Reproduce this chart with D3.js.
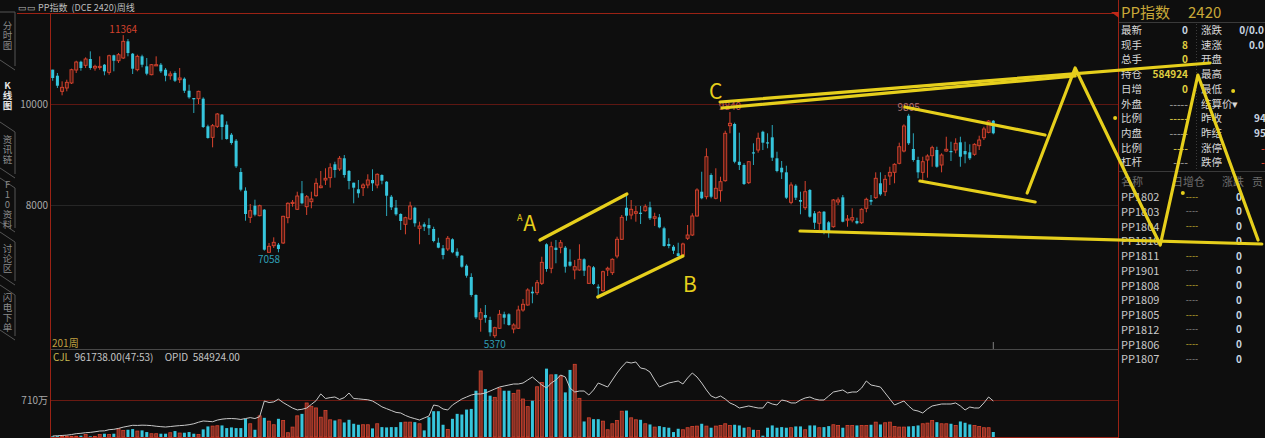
<!DOCTYPE html>
<html><head><meta charset="utf-8">
<script src="https://cdn.jsdelivr.net/npm/d3@7"></script>
<style>
html,body{margin:0;padding:0;background:#0e0e0e;overflow:hidden}
svg{display:block}
text{font-family:"Noto Sans CJK SC","Liberation Sans",sans-serif}
</style></head><body>
<svg id="c" width="1265" height="438"></svg>
<script>
// ---------------- DATA ----------------
const opens=[10680,10560,10251,10317,10416,10673,10837,10766,10891,10713,
10740,10778,10627,10964,10857,10911,11241,10996,10679,10944,
10746,10580,10770,10778,10679,10560,10614,10481,10501,10263,
10119,10105,10105,9558,9340,9558,9788,9590,9392,9273,
8653,8283,7756,7986,7788,7907,7063,7194,7214,7248,
7749,8040,7915,8232,7966,8065,8184,8343,8495,8541,
8806,8713,8925,8673,8442,8311,8343,8396,8495,8396,
8594,8461,8164,7946,7822,7618,7723,7946,7539,7618,
7604,7525,7253,7143,7129,7321,7075,6996,6798,6574,
6218,5737,5822,5723,5412,5559,5836,5836,5545,5559,
5921,6020,6283,6264,6449,7222,6747,7155,7162,7155,
6877,6713,6713,6925,6449,6766,6382,6303,6713,6660,
6990,7321,7946,7802,7836,7847,7887,7954,7737,7756,
7539,7228,7174,7044,7010,7341,7406,7782,8263,8164,
8594,8133,8283,8481,9570,9604,8857,8792,8442,9043,
9089,9451,9241,9340,8925,8738,8647,8053,8382,8099,
7946,8297,7836,7638,7867,7657,7570,8060,8152,7710,
7703,7683,7649,7935,8099,8145,8430,8263,8574,8647,
8826,9069,9768,9109,8891,8647,8891,8976,9089,8792,
9069,9069,9089,9241,9069,9043,9004,9174,9332,9439,9669];
const highs=[10680,10614,10449,10481,10699,10857,10857,10924,11043,10778,
10944,10792,10976,10976,11010,11364,11287,11010,10976,10976,
10911,10792,10944,10812,10713,10647,10647,10713,10528,10382,
10119,10263,10132,9590,9604,9822,9802,9657,9426,9307,
8733,8350,8020,8105,8006,7921,7248,7360,7248,7788,
8053,8099,8263,8475,8198,8263,8529,8673,8727,8826,
8857,8970,8990,8693,8442,8495,8430,8608,8707,8628,
8608,8475,8198,8099,7836,7768,8065,7966,7669,7657,
7737,7570,7352,7208,7386,7341,7143,7010,6826,6648,
6232,5955,6020,5788,5590,5921,5887,5856,5658,6006,
6139,6351,6382,6515,6976,7242,7273,7307,7307,7188,
7123,6911,7222,6945,6812,6792,6430,6699,6778,6945,
7372,7802,8198,8099,7980,7980,8014,8065,7847,7822,
7570,7341,7208,7253,7253,7604,7836,8331,8659,9123,
8628,8727,8560,9471,9840,9630,9432,8826,8871,9222,
9432,9471,9420,9584,9055,8871,8778,8449,8410,8263,
8475,8317,7881,7881,7881,7683,8119,8150,8198,7802,
7935,7749,7935,8145,8198,8647,8647,8594,8758,8826,
9234,9598,9805,9420,8956,8956,9004,9174,9154,9024,
9352,9253,9321,9352,9253,9202,9222,9372,9550,9683,9683];
const lows=[10460,10317,10172,10251,10396,10614,10659,10713,10679,10659,
10679,10568,10580,10647,10812,10891,10944,10594,10647,10726,
10568,10568,10766,10614,10449,10481,10435,10416,10218,10105,
9822,10000,9525,9313,9142,9525,9293,9293,9194,8733,
8271,7689,7644,7776,7776,7095,7058,7149,7063,7228,
7638,7966,7901,8014,7802,7935,8164,8331,8396,8343,
8541,8673,8541,8311,8034,8145,8178,8331,8277,8331,
8410,7782,7901,7788,7505,7420,7703,7570,7222,7485,
7406,7261,7143,6925,7089,7044,6956,6758,6560,6184,
5743,5491,5669,5400,5370,5545,5638,5610,5460,5545,
5887,6006,6054,6218,6416,6679,6648,6846,7044,6660,
6778,6529,6699,6594,6436,6416,6172,6283,6594,6614,
6945,7307,7689,7717,7669,7624,7867,7703,7584,7539,
7174,7143,7030,6976,6976,7307,7386,7768,8113,8113,
8133,8113,8065,8461,9420,8826,8693,8396,8416,8792,
9035,9089,9123,8871,8647,8515,8119,8014,8099,7816,
7901,7749,7525,7505,7420,7352,7550,8000,7657,7570,
7657,7618,7624,7856,8000,8119,8184,8178,8396,8430,
8806,9043,9188,8857,8529,8495,8541,8758,8738,8647,
9055,8871,9024,8758,8826,8891,8976,9089,9287,9420,9400];
const closes=[10515,10362,10330,10429,10679,10831,10713,10891,10713,10746,
10746,10647,10956,10857,10976,11241,11010,10699,10944,10778,
10600,10778,10778,10647,10560,10594,10461,10515,10263,10132,
10093,10251,9544,9327,9570,9802,9544,9307,9228,8766,
8303,7822,7887,7808,7986,7115,7182,7261,7129,7776,
8034,8053,8178,8034,8164,8119,8430,8376,8529,8738,
8693,8925,8594,8475,8343,8232,8396,8495,8430,8608,
8481,8184,7954,7816,7683,7749,7980,7638,7584,7570,
7539,7287,7155,7010,7341,7063,6996,6778,6600,6218,
5776,5867,5768,5479,5571,5836,5768,5624,5624,5921,
6034,6317,6251,6462,6865,6733,7174,7109,7253,6778,
6798,6778,6925,6699,6778,6436,6351,6679,6747,6925,
7321,7756,7788,7915,7867,7836,7966,7737,7768,7558,
7188,7188,7095,6990,7228,7406,7782,8297,8133,8956,
8164,8331,8461,9420,9618,8857,8792,8416,8857,9024,
9321,9234,9222,8937,8673,8647,8145,8396,8145,8065,
8263,7768,7649,7855,7471,7485,8099,8100,7669,7723,
7749,7638,7915,8113,8065,8529,8212,8509,8647,8806,
9154,9564,9222,8891,8647,8857,8970,9135,8758,8990,
9103,9055,9222,8956,9004,8925,9202,9287,9505,9663,9420];
// volume in 万
const volumes=[15,18,12,14,13,15,25,50,13,13,
50,63,50,63,158,127,139,152,114,127,
95,63,63,63,63,82,114,76,82,95,
63,50,146,203,209,216,222,171,184,171,
171,349,254,139,406,368,304,235,349,317,
82,190,406,444,653,590,558,380,507,330,
317,330,279,330,254,235,235,235,165,254,
190,184,190,190,285,285,285,285,254,127,
380,495,495,235,146,349,444,431,526,539,
888,1268,919,793,761,938,888,888,837,900,
729,583,697,964,1046,1312,1192,1205,1173,856,
1287,1395,742,298,368,342,342,304,139,254,
317,495,507,368,330,330,254,241,190,209,
190,178,95,158,139,178,203,209,254,209,
178,209,222,254,222,235,222,178,178,139,
127,25,178,222,178,190,178,178,203,203,
139,222,222,178,190,209,235,222,178,222,
222,222,222,222,235,285,241,273,285,203,
190,190,203,209,222,254,266,317,285,254,
254,254,222,298,273,241,222,203,178,178,96];
// open interest in 千手
const openInterest=[16,20,25,30,40,54,60,70,75,85,
97,100,119,125,140,160,175,190,188,192,
190,185,175,168,162,170,178,185,190,200,
215,240,260,255,248,275,290,298,300,296,
285,300,315,300,330,585,560,570,615,560,
515,470,440,450,470,530,590,700,625,640,
650,610,640,715,625,620,612,605,585,540,
490,460,430,400,390,350,320,298,276,309,
341,520,504,455,439,520,569,617,650,682,
699,699,715,747,780,812,829,845,861,861,
877,926,975,910,845,796,877,926,1007,975,
796,731,747,747,682,764,877,845,812,926,
1040,1137,1219,1202,1219,1121,1105,1056,926,812,
845,877,894,910,861,959,1040,975,877,764,
666,634,666,617,553,520,471,487,504,487,
471,471,569,536,520,601,585,553,553,601,
634,650,617,601,601,666,731,747,764,715,
731,731,796,910,845,829,812,715,617,520,
553,585,504,439,422,390,455,504,520,536,
536,536,553,504,439,487,471,471,553,650,584.924];
const priceTicks=[8000,10000];
const volTicks=[710];
const markIdx=[15,46,94,182,144];
const markText=["11364","7058","5370","9805","9840"];
const markSide=["top","bottom","bottom","top","top"];
const sideTabs=["分时图","K线图","资讯链","F10资料","讨论区","闪电下单"];
const quoteLabelsL=["最新","现手","总手","持仓","日增","外盘","比例","内盘","比例","杠杆"];
const quoteValuesL=["0","8","0","584924","0","-----","-----","-----","----","----"];
const quoteLabelsR=["涨跌","速涨","开盘","最高","最低","结算价","昨收","昨结","涨停","跌停"];
const quoteValuesR=["0/0.0","0.0","","","","","94","95","-","-"];
const contracts=["PP1802","PP1803","PP1804","PP1810","PP1811","PP1901","PP1808","PP1809","PP1805","PP1812","PP1806","PP1807"];
const contractHeads=["名称","日增仓","涨跌","贡"];
// hand-drawn annotations, [candle index, price]
const annoLines=[
 [[103.6,7307],[122.1,8218]],
 [[115.9,6178],[134.0,6990]],
 [[141.9,10040],[246.1,10812]],
 [[142.3,9921],[217.4,10554]],
 [[181.2,9941],[211.0,9386]],
 [[184.4,8475],[208.9,8060]],
 [[158.9,7485],[257.1,7228]],
 [[207.2,8238],[217.4,10713],[235.5,7208],[243.5,10574],[256.3,7307]]
];
const annoLetters=["A","B","C"];
const annoLetterPos=[[101.4,7664],[135.5,6456],[141.0,10277]];
const annoDots=[[225.9,9723],[251.0,10257],[240.3,8238]];

// ---------------- SCALES ----------------
const N=opens.length;
const x=d3.scaleBand().domain(d3.range(N)).range([50.35,995.65]).paddingInner(0.36).paddingOuter(0.18);
const bw=x.bandwidth();
const cx=i=>x(i)+bw/2;
const xi=d3.scaleLinear().domain([0,N-1]).range([cx(0),cx(N-1)]);
const y=d3.scaleLinear().domain([8000,10000]).range([205,104]);
const yv=d3.scaleLinear().domain([0,710]).range([437,400]);
const yo=d3.scaleLinear().domain([0,584.924]).range([437,401]);

const UP="#d8432e", UP_FILL="#4a1b14", DOWN="#36c5dc", DOWN_W="#2aa6ba";
const svg=d3.select("#c");
svg.append("rect").attr("width",1265).attr("height",438).attr("fill","#0e0e0e");

const defs=svg.append("defs");
defs.append("clipPath").attr("id","cpMain").append("rect").attr("x",51).attr("y",14).attr("width",1067).attr("height",335);
defs.append("clipPath").attr("id","cpVol").append("rect").attr("x",51).attr("y",351).attr("width",1067).attr("height",87);

// ---------------- FRAME ----------------
svg.append("text").attr("x",18).attr("y",7).attr("dominant-baseline","central")
  .attr("font-size",9).attr("fill","#bdbdbd").style("white-space","pre").text("▭▭ PP指数  (DCE 2420)周线");
svg.append("line").attr("x1",17).attr("x2",1118).attr("y1",13.5).attr("y2",13.5).attr("stroke","#9a2214");
svg.append("line").attr("x1",50.5).attr("x2",50.5).attr("y1",13).attr("y2",438).attr("stroke","#9a2214");
svg.append("line").attr("x1",1118.5).attr("x2",1118.5).attr("y1",0).attr("y2",438).attr("stroke","#9a2214");
svg.append("path").attr("d","M1111,12 L1119,12 L1119,18 Z").attr("fill","#c02818");

// grid lines
svg.append("g").selectAll("line").data(priceTicks).join("line")
  .attr("x1",51).attr("x2",1118).attr("y1",d=>Math.round(y(d))+0.5).attr("y2",d=>Math.round(y(d))+0.5)
  .attr("stroke",d=>d===10000?"#5e1712":"#262626");
const yAxis=d3.axisLeft(y).tickValues(priceTicks).tickSize(0).tickPadding(3).tickFormat(d3.format("d"));
svg.append("g").attr("transform","translate(51,0)").call(yAxis)
  .call(g=>g.select(".domain").remove())
  .selectAll("text").attr("fill","#a8a8a8").attr("font-size",10).attr("font-family","Liberation Sans, sans-serif");

// separators
svg.append("line").attr("x1",51).attr("x2",1118).attr("y1",349.5).attr("y2",349.5).attr("stroke","#484848");
svg.append("line").attr("x1",xi(200)).attr("x2",xi(200)).attr("y1",342).attr("y2",349).attr("stroke","#808080");
svg.append("text").attr("x",52).attr("y",342).attr("dominant-baseline","central").attr("font-size",10).attr("fill","#c0a040").text("201周");

// volume panel axis
svg.append("g").selectAll("line").data(volTicks).join("line")
  .attr("x1",51).attr("x2",1118).attr("y1",d=>Math.round(yv(d))+0.5).attr("y2",d=>Math.round(yv(d))+0.5).attr("stroke","#6a1a12");
const vAxis=d3.axisLeft(yv).tickValues(volTicks).tickSize(0).tickPadding(3).tickFormat(d=>d+"万");
svg.append("g").attr("transform","translate(51,0)").call(vAxis)
  .call(g=>g.select(".domain").remove())
  .selectAll("text").attr("fill","#a8a8a8").attr("font-size",10);
svg.append("line").attr("x1",51).attr("x2",1118).attr("y1",437.5).attr("y2",437.5).attr("stroke","#9a2214");
const info=svg.append("text").attr("x",53).attr("y",356).attr("dominant-baseline","central").attr("font-size",10)
  .attr("font-family","Liberation Sans, sans-serif").style("white-space","pre");
info.append("tspan").attr("fill","#c8b850").text("CJL  ");
info.append("tspan").attr("fill","#c4c4c4").text("961738.00(47:53)     OPID  584924.00");

// ---------------- CANDLES ----------------
const idx=d3.range(N);
const cg=svg.append("g").attr("clip-path","url(#cpMain)");
cg.selectAll("line.w").data(idx).join("line").attr("class","w")
  .attr("x1",i=>cx(i)).attr("x2",i=>cx(i))
  .attr("y1",i=>y(highs[i])).attr("y2",i=>y(lows[i]))
  .attr("stroke",i=>closes[i]>=opens[i]?UP:DOWN_W).attr("stroke-width",1);
cg.selectAll("rect.b").data(idx).join("rect").attr("class","b")
  .attr("x",i=>x(i)).attr("width",bw)
  .attr("y",i=>y(Math.max(opens[i],closes[i])))
  .attr("height",i=>Math.max(1.2,Math.abs(y(opens[i])-y(closes[i]))))
  .attr("fill",i=>closes[i]>=opens[i]?UP_FILL:DOWN)
  .attr("stroke",i=>closes[i]>=opens[i]?UP:"none").attr("stroke-width",0.9);

// extreme labels
svg.append("g").selectAll("text").data(markIdx).join("text")
  .attr("x",i=>cx(i)).attr("y",(i,k)=>markSide[k]==="top"?y(highs[i])-7:y(lows[i])+6)
  .attr("text-anchor","middle").attr("dominant-baseline","central").attr("font-size",10)
  .attr("font-family","Liberation Sans, sans-serif")
  .attr("fill",(i,k)=>k===0?"#d2412c":(k<3?"#2e9fb5":(k===3?"#b07272":"#c05050")))
  .text((i,k)=>markText[k]);

// ---------------- VOLUME + OI ----------------
const vg=svg.append("g").attr("clip-path","url(#cpVol)");
vg.selectAll("rect").data(idx).join("rect")
  .attr("x",i=>x(i)).attr("width",bw)
  .attr("y",i=>yv(volumes[i])).attr("height",i=>yv(0)-yv(volumes[i]))
  .attr("fill",i=>closes[i]>=opens[i]?"#7e3025":DOWN)
  .attr("stroke",i=>closes[i]>=opens[i]?UP:"none").attr("stroke-width",0.8);
vg.append("path").datum(idx)
  .attr("d",d3.line().x(i=>cx(i)).y(i=>yo(openInterest[i])))
  .attr("fill","none").attr("stroke","#c8c8c8").attr("stroke-width",1);

// ---------------- SIDE TABS ----------------
const tabBounds=[[12,70],[70,122],[122,178],[178,232],[232,285],[285,340]];
const tg=svg.append("g");
tabBounds.forEach((b,k)=>{
  if(k!==1){
    tg.append("path").attr("d",`M0,${b[0]} L15,${b[0]+(k===0?0:10)} L15,${b[1]-4} M0,${b[1]-10} L15,${b[1]}`)
      .attr("fill","none").attr("stroke","#555");
  }
  const mid=(b[0]+b[1])/2+(k===0?-5:0);
  tg.append("text").attr("x",7.5).attr("y",mid)
    .attr("writing-mode","vertical-rl").style("text-orientation","upright")
    .attr("text-anchor","middle").attr("dominant-baseline","central")
    .attr("font-size",9.5).attr("letter-spacing",0.5)
    .attr("fill",k===1?"#e6e6e6":"#8a8a8a").attr("font-weight",k===1?"bold":"normal")
    .text(sideTabs[k]);
});

// ---------------- RIGHT PANEL ----------------
const rp=svg.append("g");
rp.append("text").attr("x",1121).attr("y",11).attr("dominant-baseline","central").attr("font-size",15).attr("fill","#c8a838").text("PP指数");
rp.append("text").attr("x",1188).attr("y",11).attr("dominant-baseline","central").attr("font-size",15).attr("fill","#c8a838")
  .attr("font-family","Liberation Serif, serif").text("2420");
rp.append("line").attr("x1",1119).attr("x2",1265).attr("y1",22.5).attr("y2",22.5).attr("stroke","#3a3a3a");
rp.append("line").attr("x1",1119).attr("x2",1265).attr("y1",171.5).attr("y2",171.5).attr("stroke","#3a3a3a");
rp.append("line").attr("x1",1196.5).attr("x2",1196.5).attr("y1",24).attr("y2",170).attr("stroke","#3c3c3c").attr("stroke-dasharray","1,2");
const ry=d3.scaleLinear().domain([0,1]).range([29.5,44.2]);
const valColorsL=["#c8d4e0","#e0d040","#e0d040","#e0d040","#e0d040","#8c8c8c","#c8b840","#8c8c8c","#c8b840","#8c8c8c"];
rp.selectAll("text.ql").data(quoteLabelsL).join("text").attr("class","ql")
  .attr("x",1121).attr("y",(d,k)=>ry(k)).attr("dominant-baseline","central").attr("font-size",10.5).attr("fill","#d8d8d8").text(d=>d);
rp.selectAll("text.qv").data(quoteValuesL).join("text").attr("class","qv")
  .attr("x",1188).attr("y",(d,k)=>ry(k)).attr("text-anchor","end").attr("dominant-baseline","central")
  .attr("font-size",10).attr("font-weight","bold").attr("font-family","Liberation Sans, sans-serif")
  .attr("fill",(d,k)=>valColorsL[k]).text(d=>d);
rp.selectAll("text.qr").data(quoteLabelsR).join("text").attr("class","qr")
  .attr("x",1201).attr("y",(d,k)=>ry(k)).attr("dominant-baseline","central").attr("font-size",10.5).attr("fill","#d8d8d8")
  .text(d=>d+(d==="结算价"?"▾":""));
rp.selectAll("text.qrv").data(quoteValuesR).join("text").attr("class","qrv")
  .attr("x",(d,k)=>k<2?1264:(k>=8?1261:1254)).attr("text-anchor",(d,k)=>k<2?"end":"start")
  .attr("y",(d,k)=>ry(k)).attr("dominant-baseline","central")
  .attr("font-size",10).attr("font-weight","bold").attr("font-family","Liberation Sans, sans-serif")
  .attr("fill",(d,k)=>k>=8?"#d04030":"#c8d4e0").text(d=>d);

const hx=[1121,1172,1222,1252];
rp.selectAll("text.ch").data(contractHeads).join("text").attr("class","ch")
  .attr("x",(d,k)=>hx[k]).attr("y",181).attr("dominant-baseline","central").attr("font-size",11).attr("fill","#6c6c6c").text(d=>d);
const cy=d3.scaleLinear().domain([0,1]).range([196,210.77]);
rp.selectAll("text.cn").data(contracts).join("text").attr("class","cn")
  .attr("x",1121).attr("y",(d,k)=>cy(k)).attr("dominant-baseline","central").attr("font-size",11)
  .attr("font-family","Liberation Serif, serif").attr("fill","#c8c8c8").text(d=>d);
rp.selectAll("text.cd").data(contracts).join("text").attr("class","cd")
  .attr("x",1192).attr("y",(d,k)=>cy(k)).attr("text-anchor","middle").attr("dominant-baseline","central").attr("font-size",9)
  .attr("font-family","Liberation Sans, sans-serif").attr("fill",(d,k)=>k%2===0?"#c8b030":"#8c8c8c").text("----");
rp.selectAll("text.cz").data(contracts).join("text").attr("class","cz")
  .attr("x",1239).attr("y",(d,k)=>cy(k)).attr("text-anchor","middle").attr("dominant-baseline","central").attr("font-size",10)
  .attr("font-weight","bold").attr("font-family","Liberation Sans, sans-serif").attr("fill","#c8d4e0").text("0");

// ---------------- ANNOTATIONS ----------------
const YEL="#e6cf1c";
const ag=svg.append("g");
const aline=d3.line().x(p=>xi(p[0])).y(p=>y(p[1]));
ag.selectAll("path").data(annoLines).join("path").attr("d",aline)
  .attr("fill","none").attr("stroke",YEL).attr("stroke-width",3.2).attr("stroke-linecap","round").attr("stroke-linejoin","round");
ag.selectAll("text.al").data(annoLetters).join("text").attr("class","al")
  .attr("x",(d,k)=>xi(annoLetterPos[k][0])).attr("y",(d,k)=>y(annoLetterPos[k][1]))
  .attr("text-anchor","middle").attr("dominant-baseline","central").attr("font-size",21)
  .attr("font-family","Liberation Sans, sans-serif").attr("fill",YEL).text(d=>d);
ag.append("text").attr("x",xi(99.3)).attr("y",y(7743)).attr("text-anchor","middle").attr("dominant-baseline","central")
  .attr("font-size",9).attr("font-family","Liberation Sans, sans-serif").attr("fill",YEL).text("A");
ag.selectAll("circle").data(annoDots).join("circle").attr("cx",p=>xi(p[0])).attr("cy",p=>y(p[1])).attr("r",2).attr("fill",YEL);
</script>
</body></html>
